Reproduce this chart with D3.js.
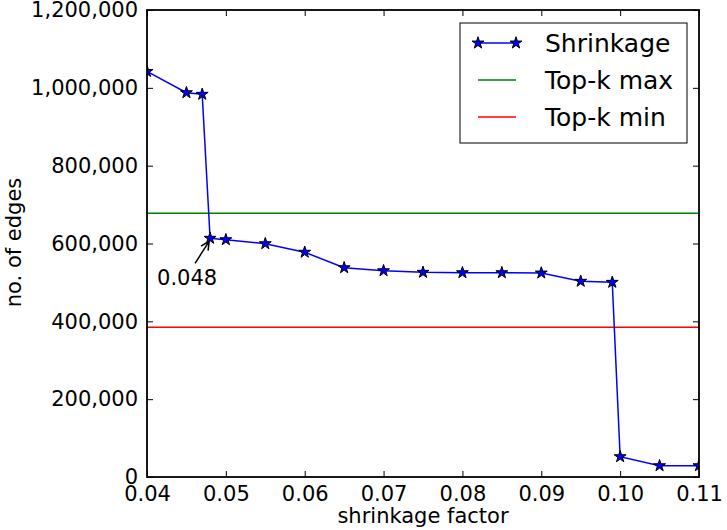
<!DOCTYPE html>
<html>
<head>
<meta charset="utf-8">
<script src="https://cdn.jsdelivr.net/npm/d3@7"></script>
<style>
  body { margin: 0; background: #fff; }
  text { font-family: "DejaVu Sans", sans-serif; fill: #000; }
</style>
</head>
<body>
<div id="chart"></div>
<script>
// shrinkage factor vs number of edges
var factors = [0.04, 0.045, 0.047, 0.048, 0.05, 0.055, 0.06, 0.065, 0.07, 0.075, 0.08, 0.085, 0.09, 0.095, 0.099, 0.10, 0.105, 0.11];
var edges = [1042000, 987500, 983400, 613400, 609800, 599500, 577600, 537800, 530100, 526000, 525000, 525000, 524200, 502900, 500300, 52200, 29000, 29000];
var topkMax = 678000;
var topkMin = 385000;
var xTicks = [0.04, 0.05, 0.06, 0.07, 0.08, 0.09, 0.10, 0.11];
var xTickLabels = ["0.04", "0.05", "0.06", "0.07", "0.08", "0.09", "0.10", "0.11"];
var yTicks = [0, 200000, 400000, 600000, 800000, 1000000, 1200000];
var legendNames = ["Shrinkage", "Top-k max", "Top-k min"];
var annotX = 0.048, annotText = "0.048";

var w = 727, h = 530;
var margin = {top: 10, right: 28, bottom: 53, left: 147};
var width = w - margin.left - margin.right,
    height = h - margin.top - margin.bottom;
var fs = 21;

var x = d3.scaleLinear().domain([0.04, 0.11]).range([0, width]);
var y = d3.scaleLinear().domain([0, 1200000]).range([height, 0]);

var svg = d3.select("#chart").append("svg")
    .attr("width", w)
    .attr("height", h)
  .append("g")
    .attr("transform", "translate(" + margin.left + "," + margin.top + ")");

svg.append("clipPath").attr("id", "clip")
  .append("rect").attr("width", width).attr("height", height);

var plot = svg.append("g").attr("clip-path", "url(#clip)");

// reference lines
plot.append("line")
    .attr("x1", 0).attr("x2", width)
    .attr("y1", y(topkMax)).attr("y2", y(topkMax))
    .attr("stroke", "#008000").attr("stroke-width", 1.5);
plot.append("line")
    .attr("x1", 0).attr("x2", width)
    .attr("y1", y(topkMin)).attr("y2", y(topkMin))
    .attr("stroke", "#ff0000").attr("stroke-width", 1.5);

var data = factors.map(function(f, i) { return {f: f, e: edges[i]}; });

var line = d3.line()
    .x(function(d) { return x(d.f); })
    .y(function(d) { return y(d.e); });

plot.append("path")
    .datum(data)
    .attr("fill", "none")
    .attr("stroke", "#0000ff")
    .attr("stroke-width", 1.5)
    .attr("d", line);

var star = d3.symbol().type(d3.symbolStar).size(44);

plot.selectAll(".pt")
    .data(data)
  .enter().append("path")
    .attr("class", "pt")
    .attr("transform", function(d) { return "translate(" + x(d.f) + "," + y(d.e) + ")"; })
    .attr("d", star)
    .attr("fill", "#0000ff")
    .attr("stroke", "#000")
    .attr("stroke-width", 1);

// axes: inward ticks on all four sides, matplotlib classic style
var tickLen = 6;
var xAxisB = svg.append("g")
    .attr("transform", "translate(0," + height + ")")
    .call(d3.axisBottom(x).tickValues(xTicks).tickSizeInner(-tickLen).tickSizeOuter(0)
        .tickPadding(10).tickFormat(function(d, i) { return xTickLabels[i]; }));
var xAxisT = svg.append("g")
    .call(d3.axisTop(x).tickValues(xTicks).tickSizeInner(-tickLen).tickSizeOuter(0).tickFormat(""));
var yAxisL = svg.append("g")
    .call(d3.axisLeft(y).tickValues(yTicks).tickSizeInner(-tickLen).tickSizeOuter(0)
        .tickPadding(9).tickFormat(d3.format(",")));
var yAxisR = svg.append("g")
    .attr("transform", "translate(" + width + ",0)")
    .call(d3.axisRight(y).tickValues(yTicks).tickSizeInner(-tickLen).tickSizeOuter(0).tickFormat(""));

[xAxisB, xAxisT, yAxisL, yAxisR].forEach(function(a) {
    a.select(".domain").remove();
    a.selectAll(".tick line").attr("stroke", "#000").attr("stroke-width", 1);
    a.selectAll("text").attr("font-size", fs).attr("font-family", "DejaVu Sans");
});
xAxisB.selectAll("text").attr("dy", "0.68em");

// frame
svg.append("rect")
    .attr("width", width).attr("height", height)
    .attr("fill", "none").attr("stroke", "#000").attr("stroke-width", 1.8);

// axis labels
svg.append("text")
    .attr("x", width / 2).attr("y", height + 46)
    .attr("text-anchor", "middle")
    .attr("font-size", fs)
    .text("shrinkage factor");
svg.append("text")
    .attr("transform", "rotate(-90)")
    .attr("x", -height / 2 + 1).attr("y", -126)
    .attr("text-anchor", "middle")
    .attr("font-size", fs)
    .text("no. of edges");

// annotation
var ax = x(annotX), ay = y(edges[factors.indexOf(annotX)]);
svg.append("defs").append("marker")
    .attr("id", "arrow")
    .attr("viewBox", "0 0 10 10")
    .attr("refX", 9).attr("refY", 5)
    .attr("markerWidth", 7).attr("markerHeight", 7)
    .attr("orient", "auto")
  .append("path")
    .attr("d", "M1,1 L9,5 L1,9")
    .attr("fill", "none").attr("stroke", "#000").attr("stroke-width", 1.5);
svg.append("line")
    .attr("x1", ax - 15).attr("y1", ay + 25)
    .attr("x2", ax - 1).attr("y2", ay + 3)
    .attr("stroke", "#000").attr("stroke-width", 1.5)
    .attr("marker-end", "url(#arrow)");
svg.append("text")
    .attr("x", ax - 23).attr("y", ay + 47)
    .attr("text-anchor", "middle")
    .attr("font-size", fs)
    .text(annotText);

// legend
var lg = svg.append("g").attr("transform", "translate(" + (460 - margin.left) + "," + (23 - margin.top) + ")");
lg.append("rect")
    .attr("width", 227).attr("height", 120)
    .attr("fill", "#fff").attr("stroke", "#000").attr("stroke-width", 1);
var legColors = ["#0000ff", "#008000", "#ff0000"];
legendNames.forEach(function(name, i) {
    var ly = 20 + i * 37;
    lg.append("line")
        .attr("x1", 18).attr("x2", 56)
        .attr("y1", ly).attr("y2", ly)
        .attr("stroke", legColors[i]).attr("stroke-width", 1.5);
    if (i === 0) {
        [18, 56].forEach(function(sx) {
            lg.append("path")
                .attr("transform", "translate(" + sx + "," + ly + ")")
                .attr("d", star)
                .attr("fill", "#0000ff").attr("stroke", "#000").attr("stroke-width", 1);
        });
    }
    lg.append("text")
        .attr("x", 85).attr("y", ly)
        .attr("dy", "0.35em")
        .attr("font-size", 25)
        .text(name);
});
</script>
</body>
</html>
